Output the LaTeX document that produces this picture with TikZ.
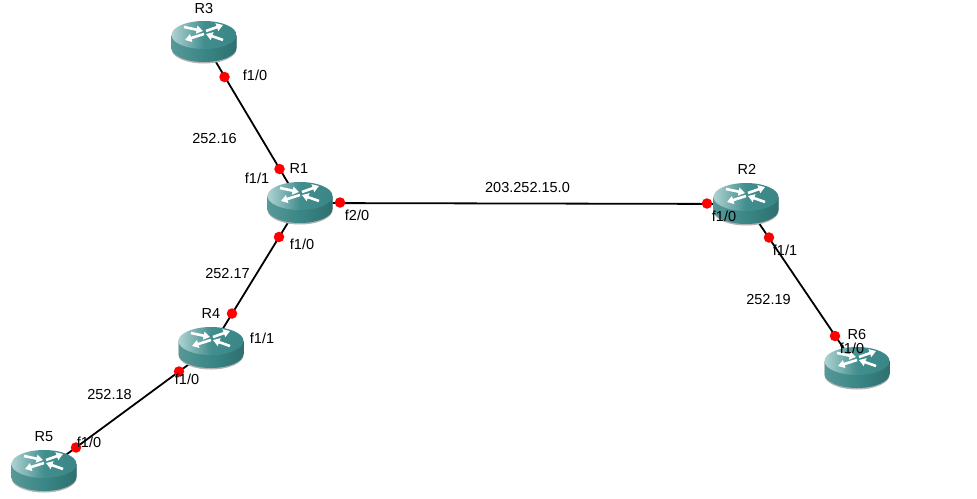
\documentclass[tikz,border=0pt]{standalone}
\usepackage{fontspec}
\usetikzlibrary{arrows.meta}
\setmainfont{Liberation Sans}
\definecolor{rbody}{RGB}{58,134,134}
\definecolor{rdark}{RGB}{46,112,112}
\definecolor{rtop}{RGB}{66,142,142}
\definecolor{rlight}{RGB}{175,210,210}
\tikzset{
  x=1pt,y=-1pt,
  link/.style={line width=1.8pt,black},
  portdot/.style={circle,fill={rgb,255:red,255;green,0;blue,0},inner sep=0pt,minimum size=10.5pt},
  lbl/.style={font=\fontsize{14.5}{16}\selectfont,text=black,inner sep=0pt},
  routerbox/.style={inner sep=0pt,minimum width=66pt,minimum height=42pt},
  rarrow/.style={draw=white,line width=2.6pt,-{Triangle[length=6.5pt,width=8pt]}},
  pics/routerpic/.style={code={
    \fill[black!30] (-32.5,-6) -- (-32.5,7) arc[start angle=180,end angle=360,x radius=32.5pt,y radius=14.5pt] -- (32.5,-6) -- cycle;
    \shade[left color=rbody!85!white,right color=rdark,middle color=rbody] (-32.5,-7) -- (-32.5,6) arc[start angle=180,end angle=360,x radius=32.5pt,y radius=14pt] -- (32.5,-7) -- cycle;
    \path[left color=rlight,right color=rbody,middle color=rtop,shading=axis,middle color=rtop] (0,-7) ellipse[x radius=32.5pt,y radius=14pt];
    \draw[rarrow] (-20,-15) -- (-1,-11);
    \draw[rarrow] (2,-11) -- (19,-17);
    \draw[rarrow] (0,-8) -- (-19,-2);
    \draw[rarrow] (19,-2) -- (2,-8);
  }}
}
\begin{document}
\begin{tikzpicture}
\useasboundingbox (0,0) rectangle (977,498);
\fill[white] (0,0) rectangle (977,498);
% router anchors
\node[routerbox] (R3) at (204,42) {};
\node[routerbox] (R1) at (300,203) {};
\node[routerbox] (R2) at (746,204) {};
\node[routerbox] (R4) at (211,348) {};
\node[routerbox] (R5) at (44,471) {};
\node[routerbox] (R6) at (857,368) {};
% connectors
\draw[link] (R3.center) -- (R1.center);
\draw[link] (R1.center) -- (R2.center);
\draw[link] (R1.center) -- (R4.center);
\draw[link] (R4.center) -- (R5.center);
\draw[link] (R2.center) -- (R6.center);
% routers
\foreach \r in {R3,R1,R2,R4,R5,R6} \pic at (\r.center) {routerpic};
% port dots
\node[portdot] (p1) at (224.5,77) {};
\node[portdot] (p2) at (279.5,169) {};
\node[portdot] (p3) at (340,202.5) {};
\node[portdot] (p4) at (707,203.5) {};
\node[portdot] (p5) at (279,237) {};
\node[portdot] (p6) at (232,313.5) {};
\node[portdot] (p7) at (179,371.5) {};
\node[portdot] (p8) at (76,447.5) {};
\node[portdot] (p9) at (769,237.5) {};
\node[portdot] (p10) at (835,336) {};
% router names
\node[lbl] (n3) at (204,8.5) {R3};
\node[lbl] (n1) at (299,168.5) {R1};
\node[lbl] (n2) at (747,169.5) {R2};
\node[lbl] (n4) at (211,313.5) {R4};
\node[lbl] (n5) at (44,436.5) {R5};
\node[lbl] (n6) at (857,334.5) {R6};
% interface labels
\node[lbl] (i1) at (255,75.5) {f1/0};
\node[lbl] (i2) at (257,178.5) {f1/1};
\node[lbl] (i3) at (357,215.5) {f2/0};
\node[lbl] (i4) at (724,216.5) {f1/0};
\node[lbl] (i5) at (302,244.5) {f1/0};
\node[lbl] (i6) at (262,338.5) {f1/1};
\node[lbl] (i7) at (187,379.5) {f1/0};
\node[lbl] (i8) at (89,442.5) {f1/0};
\node[lbl] (i9) at (785,250.5) {f1/1};
\node[lbl] (i10) at (852,348.5) {f1/0};
% network labels
\node[lbl] (a1) at (214.5,138.5) {252.16};
\node[lbl] (a2) at (227.5,273.5) {252.17};
\node[lbl] (a3) at (109.5,394.5) {252.18};
\node[lbl] (a4) at (768.5,299.5) {252.19};
\node[lbl] (a5) at (527.5,187.5) {203.252.15.0};
\end{tikzpicture}
\end{document}
